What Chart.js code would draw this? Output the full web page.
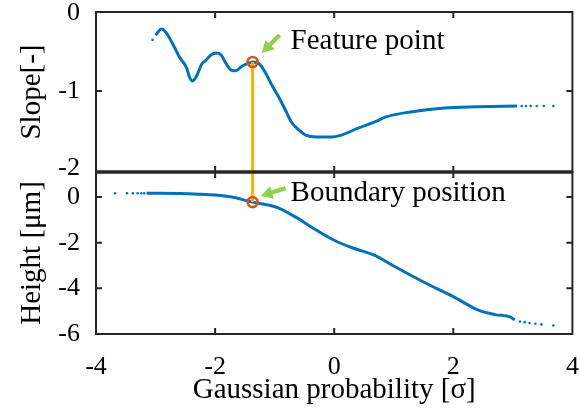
<!DOCTYPE html>
<html>
<head>
<meta charset="utf-8">
<script src="https://cdn.jsdelivr.net/npm/chart.js@4"></script>
<style>
  html, body { margin: 0; padding: 0; background: #fff; }
</style>
</head>
<body>
<canvas id="probChart" width="580" height="408"></canvas>
<script>
// slope curve (upper panel)
const slopeX = [-3.00, -2.90, -2.82, -2.72, -2.60, -2.48, -2.43, -2.38, -2.30, -2.23, -2.15, -2.07, -1.98, -1.90, -1.82, -1.73, -1.65, -1.55, -1.43, -1.37, -1.25, -1.15, -1.05, -0.93, -0.82, -0.72, -0.60, -0.48, -0.30, -0.05, 0.12, 0.40, 0.68, 0.87, 1.28, 1.85, 2.40, 3.07];
const slopeY = [-0.28, -0.20, -0.25, -0.38, -0.56, -0.70, -0.82, -0.87, -0.79, -0.66, -0.60, -0.535, -0.51, -0.535, -0.64, -0.73, -0.74, -0.68, -0.64, -0.626, -0.655, -0.77, -0.92, -1.08, -1.245, -1.40, -1.50, -1.57, -1.595, -1.595, -1.57, -1.48, -1.40, -1.335, -1.27, -1.22, -1.205, -1.195];
const slopeTailX = [-3.05, 3.15, 3.22, 3.30, 3.40, 3.52, 3.68];
const slopeTailY = [-0.34, -1.194, -1.194, -1.194, -1.194, -1.194, -1.194];

// height curve (lower panel)
const heightX = [-3.15, -2.60, -2.27, -2.00, -1.72, -1.37, -1.10, -0.93, -0.60, -0.38, 0.00, 0.30, 0.68, 1.00, 1.50, 2.00, 2.40, 2.70, 2.95, 3.03];
const heightY = [0.17, 0.16, 0.13, 0.09, 0.00, -0.22, -0.35, -0.48, -0.95, -1.32, -1.89, -2.22, -2.55, -3.02, -3.72, -4.36, -4.93, -5.15, -5.25, -5.38];
const heightTailX = [-3.68, -3.48, -3.38, -3.30, -3.24, -3.19, 3.12, 3.20, 3.28, 3.38, 3.48, 3.68];
const heightTailY = [0.17, 0.17, 0.17, 0.17, 0.17, 0.17, -5.45, -5.48, -5.52, -5.55, -5.58, -5.63];

// marked points
const featureX = -1.37;
const featureSlope = -0.626;
const boundaryHeight = -0.22;
const featureLabel = 'Feature point';
const boundaryLabel = 'Boundary position';

// axes
const xTicks = [-4, -2, 0, 2, 4];
const slopeTicks = [-2, -1, 0];
const heightTicks = [-6, -4, -2, 0];

const blue = '#0072BD';
const orange = '#D95319';
const gold = '#FFB300';
const green = '#92D050';
const serif = '"Liberation Serif", "Times New Roman", serif';

const pts = (xs, ys) => xs.map((x, i) => ({ x: x, y: ys[i] }));

function drawArrow(ctx, x0, y0, x1, y1) {
  const ang = Math.atan2(y1 - y0, x1 - x0);
  const head = 12;
  ctx.beginPath();
  ctx.moveTo(x0, y0);
  ctx.lineTo(x1 - Math.cos(ang) * head * 0.8, y1 - Math.sin(ang) * head * 0.8);
  ctx.stroke();
  ctx.beginPath();
  ctx.moveTo(x1, y1);
  ctx.lineTo(x1 - head * Math.cos(ang) + 6.5 * Math.sin(ang), y1 - head * Math.sin(ang) - 6.5 * Math.cos(ang));
  ctx.lineTo(x1 - head * Math.cos(ang) - 6.5 * Math.sin(ang), y1 - head * Math.sin(ang) + 6.5 * Math.cos(ang));
  ctx.closePath();
  ctx.fill();
}

const framePlugin = {
  id: 'frame',
  afterDraw(chart) {
    const { ctx, chartArea: ca, scales } = chart;
    const sx = scales.x, ys = scales.ySlope, yh = scales.yHeight;
    ctx.save();
    ctx.strokeStyle = '#262626';
    ctx.lineWidth = 2;
    [[ys, slopeTicks], [yh, heightTicks]].forEach(([s, ticks]) => {
      ctx.strokeRect(ca.left, s.top, ca.right - ca.left, s.bottom - s.top);
      ctx.beginPath();
      ticks.forEach(v => {
        const py = s.getPixelForValue(v);
        if (py > s.top + 4 && py < s.bottom - 4) {
          ctx.moveTo(ca.left, py); ctx.lineTo(ca.left + 6, py);
          ctx.moveTo(ca.right, py); ctx.lineTo(ca.right - 6, py);
        }
      });
      xTicks.forEach(v => {
        const px = sx.getPixelForValue(v);
        if (px > ca.left + 4 && px < ca.right - 4) {
          ctx.moveTo(px, s.top); ctx.lineTo(px, s.top + 6);
          ctx.moveTo(px, s.bottom); ctx.lineTo(px, s.bottom - 6);
        }
      });
      ctx.stroke();
    });
    ctx.lineWidth = 3.5;
    ctx.beginPath();
    ctx.moveTo(ca.left, ys.bottom);
    ctx.lineTo(ca.right, ys.bottom);
    ctx.stroke();

    // arrows and labels
    const fx = sx.getPixelForValue(featureX);
    const fy = ys.getPixelForValue(featureSlope);
    const by = yh.getPixelForValue(boundaryHeight);
    ctx.strokeStyle = green;
    ctx.fillStyle = green;
    ctx.lineWidth = 4.5;
    drawArrow(ctx, fx + 27, fy - 27, fx + 9, fy - 9);
    drawArrow(ctx, fx + 33, by - 14, fx + 8, by - 6);
    ctx.fillStyle = '#000';
    ctx.font = '29px ' + serif;
    ctx.textAlign = 'left';
    ctx.textBaseline = 'alphabetic';
    ctx.fillText(featureLabel, fx + 38, fy - 13);
    ctx.fillText(boundaryLabel, fx + 38, by - 1);
    ctx.restore();
  }
};

const fixedTicks = (list) => (scale) => { scale.ticks = list.map(v => ({ value: v })); };

new Chart(document.getElementById('probChart').getContext('2d'), {
  type: 'scatter',
  data: {
    datasets: [
      { data: [{ x: featureX, y: featureSlope }], yAxisID: 'ySlope', pointStyle: 'circle', pointRadius: 5,
        borderColor: orange, borderWidth: 2.6, backgroundColor: 'rgba(0,0,0,0)', order: 0 },
      { data: [{ x: featureX, y: boundaryHeight }], yAxisID: 'yHeight', pointStyle: 'circle', pointRadius: 5,
        borderColor: orange, borderWidth: 2.6, backgroundColor: 'rgba(0,0,0,0)', order: 0 },
      { data: [{ x: featureX, y: featureSlope }, { x: featureX, y: -2.046 }], yAxisID: 'ySlope', showLine: true,
        borderColor: gold, borderWidth: 3, pointRadius: 0, order: 1 },
      { data: [{ x: featureX, y: 1.1 }, { x: featureX, y: boundaryHeight }], yAxisID: 'yHeight', showLine: true,
        borderColor: gold, borderWidth: 3, pointRadius: 0, order: 1 },
      { data: pts(slopeX, slopeY), yAxisID: 'ySlope', showLine: true, borderColor: blue, borderWidth: 3,
        pointRadius: 0, cubicInterpolationMode: 'monotone', order: 2 },
      { data: pts(slopeTailX, slopeTailY), yAxisID: 'ySlope', pointRadius: 1.3, borderWidth: 0,
        backgroundColor: blue, order: 2 },
      { data: pts(heightX, heightY), yAxisID: 'yHeight', showLine: true, borderColor: blue, borderWidth: 3,
        pointRadius: 0, cubicInterpolationMode: 'monotone', order: 2 },
      { data: pts(heightTailX, heightTailY), yAxisID: 'yHeight', pointRadius: 1.3, borderWidth: 0,
        backgroundColor: blue, order: 2 }
    ]
  },
  options: {
    responsive: false,
    animation: false,
    events: [],
    layout: { padding: { top: 12, right: 4, left: 0, bottom: 0 } },
    plugins: { legend: { display: false }, tooltip: { enabled: false } },
    scales: {
      x: {
        type: 'linear', min: -4, max: 4,
        afterBuildTicks: fixedTicks(xTicks),
        afterFit: (s) => { s.height = 74; s.paddingLeft = 0; s.paddingRight = 0; },
        grid: { display: false, drawTicks: false },
        border: { display: false },
        ticks: { font: { family: serif, size: 26 }, color: '#000', padding: 18, maxRotation: 0, autoSkip: false },
        title: { display: true, text: 'Gaussian probability [σ]', color: '#000',
                 font: { family: serif, size: 29 }, padding: { top: 0, bottom: 0 } }
      },
      yHeight: {
        type: 'linear', position: 'left', stack: 'panels', stackWeight: 162, weight: 0,
        min: -6, max: 1.1,
        afterBuildTicks: fixedTicks(heightTicks),
        afterFit: (s) => { s.width = 96; s.paddingTop = 0; s.paddingBottom = 0; },
        grid: { display: false, drawTicks: false },
        border: { display: false },
        ticks: { font: { family: serif, size: 26 }, color: '#000', padding: 16, autoSkip: false },
        title: { display: true, text: 'Height [μm]', color: '#000',
                 font: { family: serif, size: 29 }, padding: { top: 15, bottom: 0 } }
      },
      ySlope: {
        type: 'linear', position: 'left', stack: 'panels', stackWeight: 160, weight: 1,
        min: -2.046, max: 0.02,
        afterBuildTicks: fixedTicks(slopeTicks),
        afterFit: (s) => { s.width = 96; s.paddingTop = 0; s.paddingBottom = 0; },
        grid: { display: false, drawTicks: false },
        border: { display: false },
        ticks: { font: { family: serif, size: 26 }, color: '#000', padding: 16, autoSkip: false },
        title: { display: true, text: 'Slope[-]', color: '#000',
                 font: { family: serif, size: 29 }, padding: { top: 15, bottom: 0 } }
      }
    }
  },
  plugins: [framePlugin]
});
</script>
</body>
</html>
